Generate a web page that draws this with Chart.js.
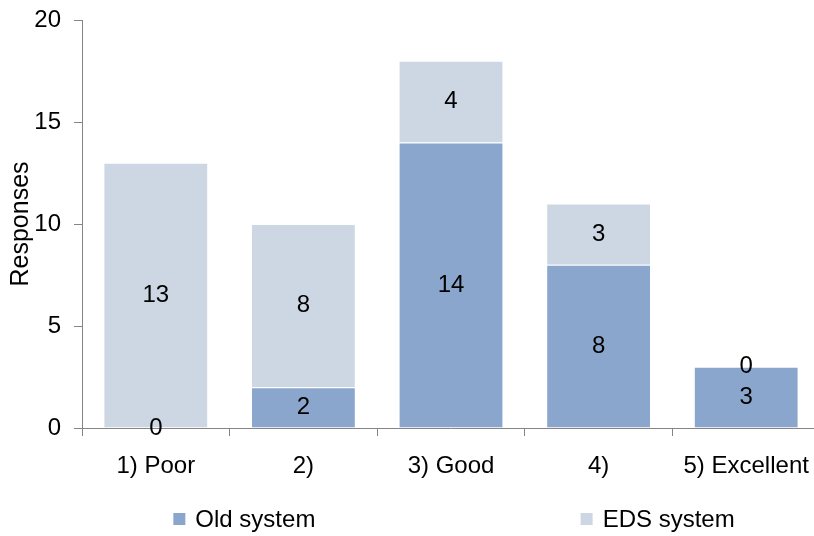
<!DOCTYPE html>
<html>
<head>
<meta charset="utf-8">
<script src="https://cdn.jsdelivr.net/npm/chart.js@4.4.0/dist/chart.umd.min.js"></script>
<style>
  html, body { margin: 0; padding: 0; background: #fff; overflow: hidden; }
  #wrap { width: 822px; height: 536px; }
</style>
</head>
<body>
<div id="wrap"><canvas id="chart" width="822" height="536"></canvas></div>
<script>
// ==========================
// Data
// ==========================
const categories = ['1) Poor', '2)', '3) Good', '4)', '5) Excellent'];
const oldSystem = [0, 2, 14, 8, 3];
const edsSystem = [13, 8, 4, 3, 0];
const seriesNames = ['Old system', 'EDS system'];
const seriesColors = ['#8aa6cd', '#cdd7e3'];
const yMax = 20;
const yStep = 5;

const FONT = "'Liberation Sans', Arial, sans-serif";
const FONT_SIZE = 24;
const AXIS_GRAY = '#858585';

// ==========================
// Value labels in the middle of each segment
// ==========================
const segmentLabels = {
    id: 'segmentLabels',
    afterDatasetsDraw(chart) {
        const ctx = chart.ctx;
        ctx.save();
        ctx.font = FONT_SIZE + 'px ' + FONT;
        ctx.fillStyle = '#000';
        ctx.textAlign = 'center';
        ctx.textBaseline = 'middle';
        chart.data.datasets.forEach((ds, i) => {
            const meta = chart.getDatasetMeta(i);
            meta.data.forEach((bar, j) => {
                const y = (bar.y + bar.base) / 2;
                ctx.fillText(String(ds.data[j]), bar.x, y);
            });
        });
        ctx.restore();
    }
};

// ==========================
// Legend spread under the plot
// ==========================
const spreadLegend = {
    id: 'spreadLegend',
    afterDraw(chart) {
        const ctx = chart.ctx;
        const area = chart.chartArea;
        const w = area.right - area.left;
        const spots = [0.22, 0.78];
        const y = 519;
        ctx.save();
        ctx.font = FONT_SIZE + 'px ' + FONT;
        ctx.textBaseline = 'middle';
        chart.data.datasets.forEach((ds, i) => {
            const box = 12, gap = 10;
            const tw = ctx.measureText(ds.label).width;
            const total = box + gap + tw;
            const x0 = area.left + w * spots[i] - total / 2;
            ctx.fillStyle = ds.backgroundColor;
            ctx.fillRect(x0, y - box / 2, box, box);
            ctx.fillStyle = '#000';
            ctx.textAlign = 'left';
            ctx.fillText(ds.label, x0 + box + gap, y + 1);
        });
        ctx.restore();
    }
};

// ==========================
// Chart
// ==========================
new Chart(document.getElementById('chart'), {
    type: 'bar',
    data: {
        labels: categories,
        datasets: [
            { label: seriesNames[0], data: oldSystem, backgroundColor: seriesColors[0], borderColor: '#ffffff', borderWidth: 1 },
            { label: seriesNames[1], data: edsSystem, backgroundColor: seriesColors[1], borderColor: '#ffffff', borderWidth: 1 }
        ]
    },
    options: {
        responsive: false,
        animation: false,
        layout: { padding: { top: 20, right: 2, bottom: 0, left: 0 } },
        datasets: { bar: { categoryPercentage: 1, barPercentage: 0.71 } },
        plugins: { legend: { display: false }, tooltip: { enabled: false } },
        scales: {
            x: {
                stacked: true,
                grid: { offset: true, drawOnChartArea: false, color: AXIS_GRAY, tickLength: 8 },
                border: { color: AXIS_GRAY, width: 1 },
                ticks: { color: '#000', font: { family: FONT, size: FONT_SIZE }, padding: 16, maxRotation: 0, autoSkip: false },
                afterFit(scale) { scale.height = 108; scale.paddingLeft = 0; scale.paddingRight = 0; }
            },
            y: {
                stacked: true,
                min: 0,
                max: yMax,
                grid: { drawOnChartArea: false, color: AXIS_GRAY, tickLength: 8 },
                border: { color: AXIS_GRAY, width: 1 },
                ticks: { stepSize: yStep, color: '#000', font: { family: FONT, size: FONT_SIZE }, padding: 13 },
                title: { display: true, text: 'Responses', color: '#000', font: { family: FONT, size: 25 }, padding: { top: 6, bottom: 4 } },
                afterFit(scale) { scale.width = 82; scale.paddingTop = 0; scale.paddingBottom = 0; }
            }
        }
    },
    plugins: [segmentLabels, spreadLegend]
});
</script>
</body>
</html>
